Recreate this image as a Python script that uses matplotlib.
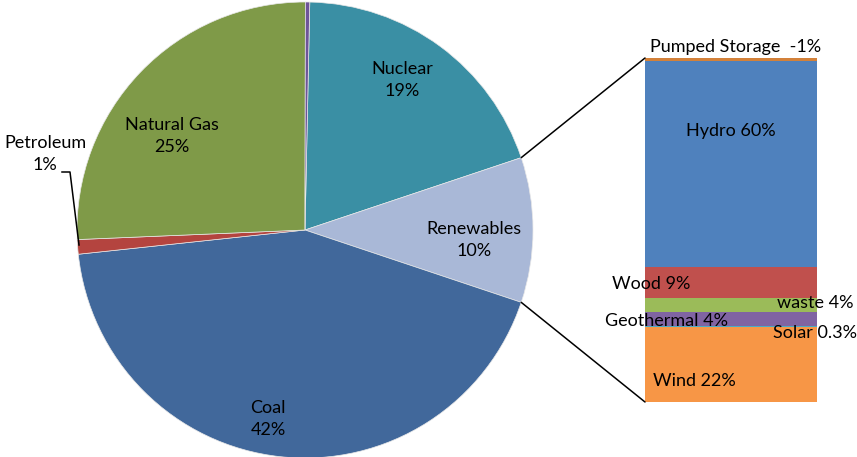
import numpy as np
import matplotlib.pyplot as plt
from matplotlib.patches import ConnectionPatch

plt.rcParams['font.family'] = ['Lato', 'DejaVu Sans']

# electricity generation by source (share of total, %)
pie_labels = ['Nuclear', 'Renewables', 'Coal', 'Petroleum', 'Natural Gas', 'Other']
pie_vals = [19, 10, 42, 1, 25, 0.3]
pie_colors = ['#3A8FA4', '#A9B8D7', '#41689B', '#B4443F', '#7F9A48', '#6E5598']

# breakdown of the renewables slice, top to bottom
bar_labels = ['Pumped Storage', 'Hydro', 'Wood', 'waste', 'Geothermal', 'Solar', 'Wind']
bar_vals = [-1, 60, 9, 4, 4, 0.3, 22]
bar_colors = ['#D3813A', '#4F81BD', '#C0504D', '#9BBB59', '#8064A2', '#4BACC6', '#F79646']

W, H = 857, 457
fig = plt.figure(figsize=(W / 100, H / 100), dpi=100)


def px(x, y):
    return x / W, 1 - y / H


# pie, rotated so the renewables slice faces the bar
total = sum(pie_vals)
start = 360 * (pie_vals[0] + pie_vals[1] / 2) / total
ax = fig.add_axes([77 / W, -1 / H, 456 / W, 456 / H])
wedges, _ = ax.pie(pie_vals, colors=pie_colors, startangle=start, counterclock=False,
                   wedgeprops=dict(edgecolor='#E8E8E8', linewidth=0.5))
ax.set_xlim(-1, 1)
ax.set_ylim(-1, 1)
ax.set_aspect('equal')
ax.axis('off')

# stacked bar
ax2 = fig.add_axes([645 / W, (H - 402) / H, 172 / W, 344 / H])
heights = np.abs(bar_vals)
bottoms = np.concatenate([np.cumsum(heights[::-1])[::-1][1:], [0]])
ax2.bar(0, heights, bottom=bottoms, width=1, color=bar_colors, linewidth=0)
ax2.set_xlim(-0.5, 0.5)
ax2.set_ylim(0, heights.sum())
ax2.axis('off')

# connector lines from renewables wedge to the bar
ren = wedges[1]
for ang, yb in [(ren.theta2, 1), (ren.theta1, 0)]:
    a = np.deg2rad(ang)
    con = ConnectionPatch(xyA=(np.cos(a), np.sin(a)), coordsA=ax.transData,
                          xyB=(0, yb), coordsB=ax2.transAxes, color='black', linewidth=1.1)
    fig.add_artist(con)

fs = 13
pie_text = [(402, 80, 'Nuclear\n19%'), (474, 240, 'Renewables\n10%'),
            (268, 419, 'Coal\n42%'), (172, 136, 'Natural Gas\n25%'),
            (45, 154, 'Petroleum\n1%')]
for x, y, t in pie_text:
    fig.text(*px(x, y), t, ha='center', va='center', fontsize=fs, linespacing=1.45)

# petroleum leader line
fig.add_artist(plt.Line2D([px(62, 0)[0], px(70, 0)[0], px(79, 0)[0]],
                          [px(0, 172)[1], px(0, 172)[1], px(0, 245)[1]],
                          color='black', linewidth=1.1))

bar_text = [(736, 47, 'center', 'Pumped Storage  -1%'), (731, 131, 'center', 'Hydro 60%'),
            (612, 284, 'left', 'Wood 9%'), (777, 303, 'left', 'waste 4%'),
            (605, 321, 'left', 'Geothermal 4%'), (773, 333, 'left', 'Solar 0.3%'),
            (653, 381, 'left', 'Wind 22%')]
for x, y, ha, t in bar_text:
    fig.text(*px(x, y), t, ha=ha, va='center', fontsize=fs)

fig.savefig('out.png', dpi=100)
